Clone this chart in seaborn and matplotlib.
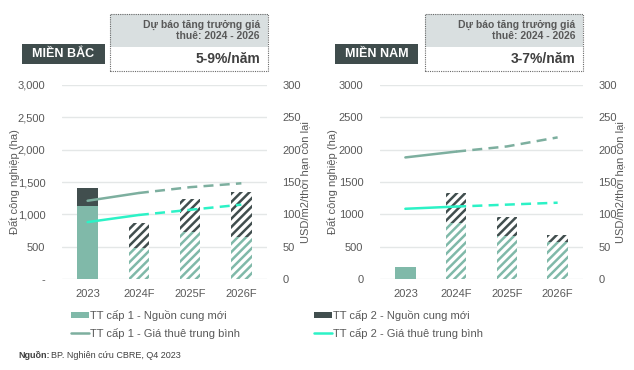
import numpy as np
import pandas as pd
import matplotlib
matplotlib.use("Agg")
import matplotlib.pyplot as plt
from matplotlib.patches import Rectangle, Patch
from matplotlib.lines import Line2D
import seaborn as sns

# --- data ---
years = ["2023", "2024F", "2025F", "2026F"]

north_tt1_supply = [1130, 480, 720, 650]
north_tt2_supply = [280, 385, 520, 695]
north_tt1_rent = [121, 133, 142, 148]
north_tt2_rent = [88, 99, 107, 115]

south_tt1_supply = [185, 865, 670, 566]
south_tt2_supply = [0, 463, 283, 118]
south_tt1_rent = [188, 197, 205, 219]
south_tt2_rent = [108.6, 112, 115, 118]

left_ticks_north = ["-", "500", "1,000", "1,500", "2,000", "2,500", "3,000"]
left_ticks_south = ["0", "500", "1000", "1500", "2000", "2500", "3000"]

regions = ["MIỀN BẮC", "MIỀN NAM"]
growth = ["5-9%/năm", "3-7%/năm"]

# --- styling ---
GREEN = "#80b9a9"
DARK = "#414e4e"
CYAN = "#2cf2c6"
LINE1 = "#7daf9f"
TXT = "#595959"
GRID = "#e4e7e7"

sns.set_theme(style="white")
plt.rcParams["font.family"] = ["Liberation Sans", "DejaVu Sans"]
plt.rcParams["hatch.linewidth"] = 1.8

fig = plt.figure(figsize=(6.34, 3.70), dpi=100)


def draw_panel(rect, tt1, tt2, rent1, rent2, ticklabels):
    ax = fig.add_axes(rect)
    df = pd.DataFrame({"year": years, "tt1": tt1, "tt2": tt2})
    df["total"] = df["tt1"] + df["tt2"]

    sns.barplot(data=df, x="year", y="total", color=DARK, width=0.4,
                saturation=1, ax=ax, linewidth=0)
    sns.barplot(data=df, x="year", y="tt1", color=GREEN, width=0.4,
                saturation=1, ax=ax, linewidth=0)
    n = len(years)
    # forecast bars -> hatched
    for i, p in enumerate(ax.patches):
        if i % n > 0:
            col = p.get_facecolor()
            p.set_facecolor("white")
            p.set_edgecolor(col)
            p.set_hatch("////")
            p.set_linewidth(0)

    ax.set_ylim(0, 3000)
    ax.set_xlim(-0.5, n - 0.5)
    ax.set_yticks(np.arange(0, 3001, 500))
    ax.set_yticklabels(ticklabels)
    ax.set_axisbelow(True)
    ax.yaxis.grid(True, color=GRID, linewidth=1)
    ax.xaxis.grid(False)
    for s in ax.spines.values():
        s.set_visible(False)
    ax.tick_params(axis="y", length=0, pad=12, labelsize=8, labelcolor=TXT)
    ax.tick_params(axis="x", length=0, pad=7, labelsize=8, labelcolor=TXT)
    ax.set_xlabel("")
    ax.set_ylabel("Đất công nghiệp (ha)", color=TXT, fontsize=8)
    ax.yaxis.set_label_coords(-0.205, 0.5)

    ax2 = ax.twinx()
    xpos = np.arange(n)
    for vals, col in [(rent1, LINE1), (rent2, CYAN)]:
        sns.lineplot(x=xpos[:2], y=vals[:2], color=col, linewidth=1.8, ax=ax2)
        sns.lineplot(x=xpos[1:], y=vals[1:], color=col, linewidth=1.8,
                     ax=ax2, linestyle=(0, (4, 2.5)))
    ax2.set_ylim(0, 300)
    ax2.set_yticks(np.arange(0, 301, 50))
    ax2.set_xlim(-0.5, n - 0.5)
    for s in ax2.spines.values():
        s.set_visible(False)
    ax2.grid(False)
    ax2.tick_params(axis="y", length=0, pad=11, labelsize=8, labelcolor=TXT)
    ax2.set_ylabel("USD/m2/thời hạn còn lại", color=TXT, fontsize=8)
    ax2.yaxis.set_label_coords(1.16, 0.5)
    return ax


def draw_header(x_tag, x_box, box_w, region, grow):
    W, H = 634, 370
    # region tag
    fig.patches.append(Rectangle((x_tag / W, 1 - 64 / H), 83 / W, 20 / H,
                                 transform=fig.transFigure, facecolor="#3f4c4c",
                                 edgecolor="none"))
    fig.text((x_tag + 41.5) / W, 1 - 54 / H, region, color="white",
             fontsize=9, fontweight="bold", ha="center", va="center")
    # forecast box
    fig.patches.append(Rectangle((x_box / W, 1 - 47 / H), box_w / W, 33 / H,
                                 transform=fig.transFigure, facecolor="#d9dfe0",
                                 edgecolor="none"))
    fig.patches.append(Rectangle((x_box / W, 1 - 71 / H), box_w / W, 57 / H,
                                 transform=fig.transFigure, facecolor="none",
                                 edgecolor="#6b6b6b", linewidth=0.8,
                                 linestyle=(0, (1, 1))))
    fig.text((x_box + box_w - 8) / W, 1 - 30.5 / H,
             "Dự báo tăng trưởng giá\nthuê: 2024 - 2026", color=TXT,
             fontsize=7.5, fontweight="bold", ha="right", va="center",
             linespacing=1.15)
    fig.text((x_box + box_w - 8) / W, 1 - 59 / H, grow, color="#3f3f3f",
             fontsize=10, fontweight="bold", ha="right", va="center")


draw_panel([62 / 634, 1 - 279 / 370, 205 / 634, 194 / 370],
           north_tt1_supply, north_tt2_supply, north_tt1_rent, north_tt2_rent,
           left_ticks_north)
draw_panel([380 / 634, 1 - 279 / 370, 203 / 634, 194 / 370],
           south_tt1_supply, south_tt2_supply, south_tt1_rent, south_tt2_rent,
           left_ticks_south)

draw_header(22, 110, 158, regions[0], growth[0])
draw_header(335, 425, 158, regions[1], growth[1])

# legends
h1 = [Patch(facecolor=GREEN, edgecolor="none"),
      Line2D([], [], color=LINE1, linewidth=1.8)]
l1 = ["TT cấp 1 - Nguồn cung mới", "TT cấp 1 - Giá thuê trung bình"]
h2 = [Patch(facecolor=DARK, edgecolor="none"),
      Line2D([], [], color=CYAN, linewidth=1.8)]
l2 = ["TT cấp 2 - Nguồn cung mới", "TT cấp 2 - Giá thuê trung bình"]
for hs, ls, x0 in [(h1, l1, 71 / 634), (h2, l2, 314 / 634)]:
    leg = fig.legend(hs, ls, loc="upper left", bbox_to_anchor=(x0, 1 - 310 / 370),
                     frameon=False, fontsize=8, handlelength=1.6,
                     handleheight=0.5, handletextpad=0.1, labelspacing=0.6,
                     borderaxespad=0, borderpad=0)
    for t in leg.get_texts():
        t.set_color(TXT)

src = fig.text(18 / 634, 1 - 355 / 370, "Nguồn:", fontsize=6.5,
               fontweight="bold", color="#404040", va="center")
fig.canvas.draw()
bb = src.get_window_extent(fig.canvas.get_renderer())
fig.text(bb.x1 / fig.bbox.width + 1.5 / 634, 1 - 355 / 370,
         "BP. Nghiên cứu CBRE, Q4 2023", fontsize=6.5, color="#404040",
         va="center")

fig.savefig("out.png", dpi=100)
